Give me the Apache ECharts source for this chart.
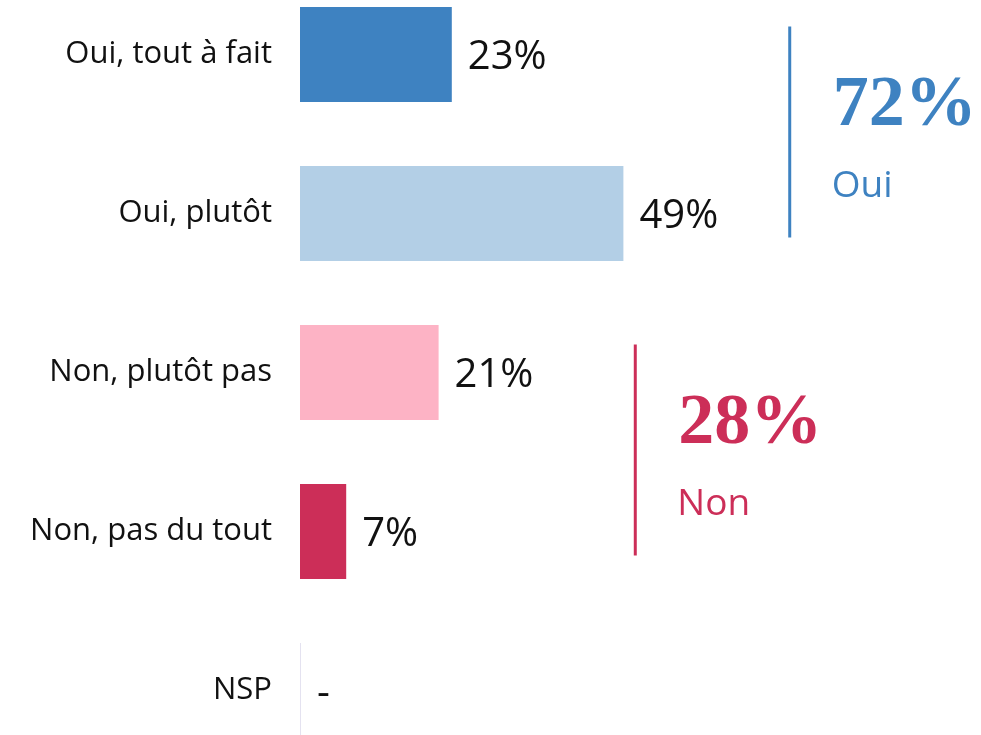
<!DOCTYPE html>
<html lang="fr">
<head>
<meta charset="utf-8">
<title>Oui / Non</title>
<script src="https://cdn.jsdelivr.net/npm/echarts@6/dist/echarts.min.js"></script>
<style>
  html, body { margin: 0; padding: 0; background: #ffffff; }
  #chart { width: 981px; height: 735px; }
</style>
</head>
<body>
<div id="chart"></div>
<script>
// categories, top to bottom
const categories = ['Oui, tout à fait', 'Oui, plutôt', 'Non, plutôt pas', 'Non, pas du tout', 'NSP']
const values = [23, 49, 21, 7, 0]
const valueLabels = ['23%', '49%', '21%', '7%', '-']
const barColors = ['#3e82c1', '#b3cfe6', '#fdb3c5', '#cc2e58', '#e4e2f0']

// grouped totals shown beside the brackets
const groupNames = ['Oui', 'Non']
const groupTotals = ['72%', '28%']
const groupFrom = [0, 2]
const groupTo = [1, 3]
const groupColors = ['#3e82c1', '#cc2e58']
const groupX = [74.2, 50.8] // where the bracket line sits, in % units

const chart = echarts.init(document.getElementById('chart'))

function renderBracket(params, api) {
  const x = api.value(0)
  const top = api.coord([x, api.value(1)])
  const bottom = api.coord([x, api.value(2)])
  const color = groupColors[params.dataIndex]
  const y0 = top[1] - 28
  const y1 = bottom[1] + 24
  const mid = (y0 + y1) / 2
  const lx = top[0]
  return {
    type: 'group',
    children: [
      {
        type: 'line',
        shape: { x1: lx, y1: y0, x2: lx, y2: y1 },
        style: { stroke: color, lineWidth: 3 }
      },
      {
        type: 'text',
        x: lx + 43,
        y: mid - 26,
        style: {
          text: groupTotals[params.dataIndex],
          fill: color,
          font: 'bold 72px "Liberation Serif", serif',
          verticalAlign: 'middle',
          align: 'left'
        }
      },
      {
        type: 'text',
        x: lx + 42,
        y: mid + 54,
        style: {
          text: groupNames[params.dataIndex],
          fill: color,
          font: '37px "Open Sans", sans-serif',
          verticalAlign: 'middle',
          align: 'left'
        }
      }
    ]
  }
}

const option = {
  animation: false,
  grid: { left: 300, right: 21, top: 54.5, height: 636, containLabel: false },
  xAxis: {
    type: 'value',
    min: 0,
    max: 100,
    show: false
  },
  yAxis: {
    type: 'category',
    data: categories,
    inverse: true,
    boundaryGap: false,
    axisLine: { show: false },
    axisTick: { show: false },
    splitLine: { show: false },
    axisLabel: {
      margin: 28,
      color: '#111111',
      fontSize: 31,
      padding: [5, 0, 0, 0],
      fontFamily: '"Open Sans", sans-serif'
    }
  },
  series: [
    {
      type: 'bar',
      barWidth: 95,
      barMinHeight: 1,
      data: values.map((v, i) => ({
        value: v,
        itemStyle: { color: barColors[i] }
      })),
      label: {
        show: true,
        position: 'right',
        distance: 16,
        offset: [0, 3],
        color: '#111111',
        fontSize: 40,
        fontFamily: '"Open Sans", sans-serif',
        formatter: (p) => valueLabels[p.dataIndex]
      }
    },
    {
      type: 'custom',
      renderItem: renderBracket,
      encode: { x: 0, y: 1 },
      data: groupX.map((x, i) => [x, groupFrom[i], groupTo[i]]),
      silent: true,
      clip: false
    }
  ]
}

chart.setOption(option)
</script>
</body>
</html>
